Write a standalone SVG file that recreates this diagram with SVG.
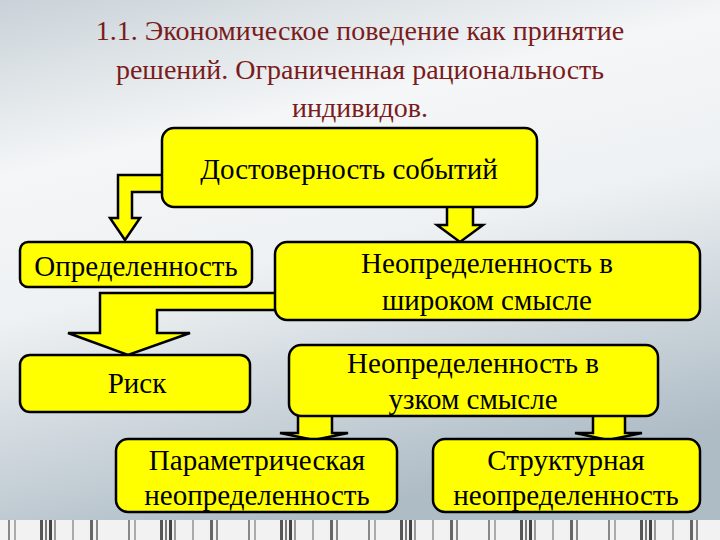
<svg xmlns="http://www.w3.org/2000/svg" width="720" height="540" viewBox="0 0 720 540">
<defs>
<linearGradient id="bg" x1="0" y1="0" x2="0.3" y2="1">
<stop offset="0" stop-color="#c9d2d8"/>
<stop offset="0.3" stop-color="#f4f6f7"/>
<stop offset="0.55" stop-color="#eef1f3"/>
<stop offset="1" stop-color="#aebcc6"/>
</linearGradient>
<pattern id="bar" width="120" height="20" patternUnits="userSpaceOnUse">
<rect width="120" height="20" fill="#f2f2f2"/>
<rect x="8" width="2" height="20" fill="#888"/><rect x="14" width="2" height="20" fill="#aaa"/>
<rect x="40" width="3" height="20" fill="#555"/><rect x="45" width="2" height="20" fill="#777"/><rect x="49" width="3" height="20" fill="#444"/><rect x="54" width="2" height="20" fill="#999"/>
<rect x="72" width="2" height="20" fill="#aaa"/><rect x="90" width="3" height="20" fill="#666"/><rect x="96" width="2" height="20" fill="#888"/>
</pattern>
<style>
.b{fill:#ffff00;stroke:#000;stroke-width:2.5}
text{font-family:'Liberation Serif','DejaVu Serif','Times New Roman',serif;text-anchor:middle}
.t{font-size:29px;fill:#000}
.h{font-size:28px;fill:#7a1c1c}
</style>
</defs>
<rect width="720" height="540" fill="url(#bg)"/>
<rect y="520" width="720" height="20" fill="url(#bar)"/>
<g id="title">
<text class="h" x="360" y="40">1.1. Экономическое поведение как принятие</text>
<text class="h" x="360" y="79">решений. Ограниченная рациональность</text>
<text class="h" x="360" y="117">индивидов.</text>
</g>
<g id="connectors">
<path class="b" d="M170,175 H118 V218 H110 L125,240 L140,218 H132 V192 H170 Z"/>
<path class="b" d="M447,200 V225 H437 L460,242 L483,225 H473 V200 Z"/>
<path class="b" d="M285,293 H100 V333 H68 L128,355 L190,333 H157 V310 H285 Z"/>
<path class="b" d="M298,410 V433 H280 L314,440 L348,433 H332 V410 Z"/>
<path class="b" d="M593,410 V433 H575 L608,440 L642,433 H625 V410 Z"/>
</g>
<g id="n1"><rect class="b" x="162" y="128" width="375" height="79" rx="12"/><text class="t" x="349" y="179">Достоверность событий</text></g>
<g id="n2"><rect class="b" x="20" y="242" width="232" height="45" rx="8"/><text class="t" x="136" y="276">Определенность</text></g>
<g id="n3"><rect class="b" x="275" y="242" width="425" height="78" rx="12"/><text class="t" x="487" y="273">Неопределенность в</text><text class="t" x="487" y="310">широком смысле</text></g>
<g id="n4"><rect class="b" x="20" y="355" width="230" height="57" rx="10"/><text class="t" x="137" y="393">Риск</text></g>
<g id="n5"><rect class="b" x="289" y="345" width="369" height="71" rx="12"/><text class="t" x="473" y="373">Неопределенность в</text><text class="t" x="473" y="409">узком смысле</text></g>
<g id="n6"><rect class="b" x="116" y="439" width="281" height="73" rx="12"/><text class="t" x="257" y="470">Параметрическая</text><text class="t" x="257" y="505">неопределенность</text></g>
<g id="n7"><rect class="b" x="433" y="439" width="267" height="73" rx="12"/><text class="t" x="566" y="470">Структурная</text><text class="t" x="566" y="505">неопределенность</text></g>
</svg>
